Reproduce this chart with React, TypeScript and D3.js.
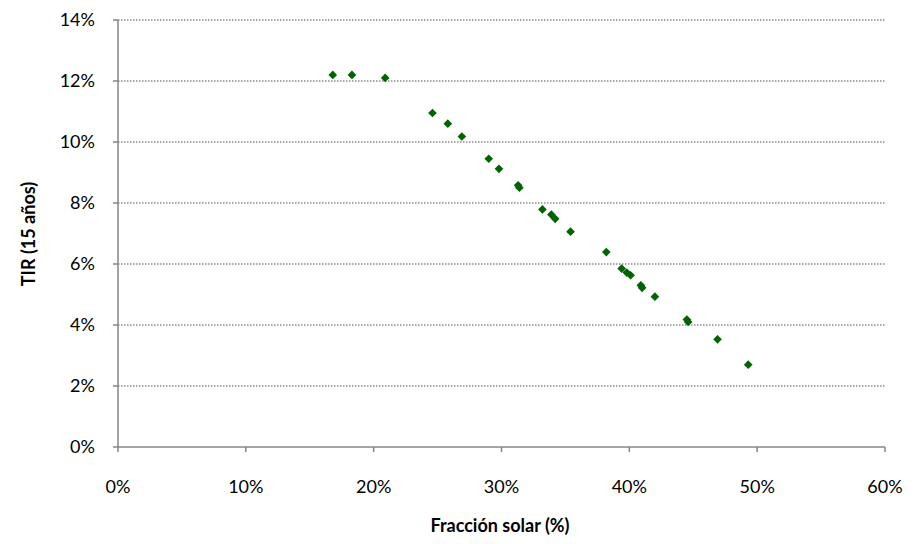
import React from "react";
import * as d3 from "d3";

const fraccionSolar = [16.8, 18.3, 20.9, 24.6, 25.8, 26.9, 29.0, 29.8, 31.3, 31.4, 33.2, 33.9, 34.2, 35.4, 38.2, 39.4, 39.8, 40.1, 40.9, 41.0, 42.0, 44.5, 44.6, 46.9, 49.3];
const tir = [12.2, 12.2, 12.1, 10.95, 10.6, 10.18, 9.45, 9.12, 8.58, 8.5, 7.79, 7.62, 7.48, 7.06, 6.39, 5.85, 5.72, 5.63, 5.3, 5.22, 4.93, 4.18, 4.1, 3.53, 2.7];
const xTicks = [0, 10, 20, 30, 40, 50, 60];
const yTicks = [0, 2, 4, 6, 8, 10, 12, 14];

const W = 915, H = 544;
const left = 118, right = 885, top = 20, bottom = 447;
const font = "Lato, 'Open Sans', sans-serif";

export default function App() {
  const x = d3.scaleLinear().domain([0, 60]).range([left, right]);
  const y = d3.scaleLinear().domain([0, 14]).range([bottom, top]);
  const sym = d3.symbol().type(d3.symbolDiamond2).size(48)();
  return (
    <svg width={W} height={H} style={{ position: "absolute", left: 0, top: 0 }}>
      <rect width={W} height={H} fill="#fff" />
      {yTicks.filter((t) => t > 0).map((t) => (
        <line key={"g" + t} x1={left} x2={right} y1={y(t)} y2={y(t)} stroke="#8c8c8c" strokeWidth={1.3} strokeDasharray="1.5,1.5" />
      ))}
      <line x1={left} x2={left} y1={top} y2={bottom} stroke="#868686" strokeWidth={1.5} />
      <line x1={left} x2={right} y1={bottom} y2={bottom} stroke="#868686" strokeWidth={1.5} />
      {yTicks.map((t) => (
        <g key={"y" + t}>
          <line x1={left - 5} x2={left} y1={y(t)} y2={y(t)} stroke="#868686" strokeWidth={1.5} />
          <text x={95} y={y(t)} dy="0.35em" textAnchor="end" fontFamily={font} fontSize={18} fill="#000">{t}%</text>
        </g>
      ))}
      {xTicks.map((t) => (
        <g key={"x" + t}>
          <line x1={x(t)} x2={x(t)} y1={bottom} y2={bottom + 5} stroke="#868686" strokeWidth={1.5} />
          <text x={x(t)} y={487} dy="0.35em" textAnchor="middle" fontFamily={font} fontSize={18} fill="#000">{t}%</text>
        </g>
      ))}
      {fraccionSolar.map((f, i) => (
        <path key={"p" + i} d={sym!} transform={`translate(${x(f)},${y(tir[i])})`} fill="#006400" />
      ))}
      <text x={500} y={526} dy="0.35em" textAnchor="middle" fontFamily={font} fontSize={18} fontWeight="bold" fill="#000">Fracción solar (%)</text>
      <text transform={`translate(29,234) rotate(-90)`} dy="0.35em" textAnchor="middle" fontFamily={font} fontSize={18} fontWeight="bold" fill="#000">TIR (15 años)</text>
    </svg>
  );
}
